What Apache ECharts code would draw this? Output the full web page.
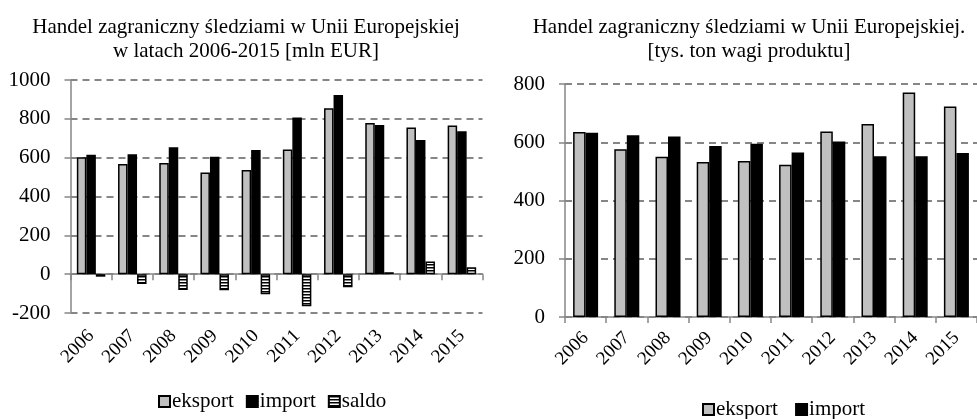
<!DOCTYPE html>
<html>
<head>
<meta charset="utf-8">
<script src="https://cdn.jsdelivr.net/npm/echarts@6/dist/echarts.min.js"></script>
<style>
html,body{margin:0;padding:0;background:#fff;}
#c{width:977px;height:419px;}
</style>
</head>
<body>
<div id="c"></div>
<script>
const years = ['2006','2007','2008','2009','2010','2011','2012','2013','2014','2015'];
const eurEksport = [602, 567, 572, 523, 536, 642, 855, 778, 756, 766];
const eurImport  = [615, 618, 654, 605, 640, 807, 923, 768, 691, 736];
const eurSaldo   = [-13, -51, -82, -83, -104, -165, -68, 10, 65, 35];
const tonEksport = [635, 576, 550, 532, 536, 523, 637, 663, 771, 723];
const tonImport  = [633, 624, 620, 587, 595, 565, 603, 552, 552, 563];
const eurTicks = {min: -200, max: 1000, interval: 200};
const tonTicks = {min: 0, max: 800, interval: 200};

const FONT = "'Liberation Serif','Times New Roman',serif";
const GRAY = '#868686';

// striped pattern for saldo
const pc = document.createElement('canvas');
pc.width = 4; pc.height = 3;
const pctx = pc.getContext('2d');
pctx.fillStyle = '#fff'; pctx.fillRect(0,0,4,3);
pctx.fillStyle = '#000'; pctx.fillRect(0,0,4,1.5);
const stripe = {image: pc, repeat: 'repeat'};

const chart = echarts.init(document.getElementById('c'), null, {renderer: 'canvas'});

function yAxisCfg(grid, t) {
  return {
    type: 'value', gridIndex: grid, min: t.min, max: t.max, interval: t.interval,
    axisLine: {show: true, lineStyle: {color: GRAY, width: 1.5}},
    axisTick: {show: true, length: 6, lineStyle: {color: GRAY, width: 1.5}},
    axisLabel: {color: '#000', fontFamily: FONT, fontSize: 21, margin: 20, formatter: v => String(v)},
    splitLine: {show: true, lineStyle: {color: GRAY, width: 2, type: [7, 5]}}
  };
}
function xAxisMain(grid) {
  return {
    type: 'category', gridIndex: grid, data: years,
    axisLine: {show: true, onZero: true, lineStyle: {color: GRAY, width: 1.5}},
    axisTick: {show: true, length: 6, lineStyle: {color: GRAY, width: 1.5}},
    axisLabel: {show: false}
  };
}
function xAxisLabels(grid, margin) {
  return {
    type: 'category', gridIndex: grid, data: years, position: 'bottom',
    axisLine: {show: false, onZero: false},
    axisTick: {show: false},
    axisLabel: {show: true, rotate: 45, color: '#000', fontFamily: FONT, fontSize: 19, margin: margin, interval: 0},
    splitLine: {show: false}
  };
}
const borderStyle = {borderColor: '#000', borderWidth: 1.5};
const titleStyle = {fontFamily: FONT, fontSize: 21, fontWeight: 'normal', color: '#000', lineHeight: 24};
const legendText = {fontFamily: FONT, fontSize: 21, color: '#000', padding: [0,0,0,-3]};

chart.setOption({
  animation: false,
  title: [
    {text: 'Handel zagraniczny śledziami w Unii Europejskiej\nw latach 2006-2015 [mln EUR]',
     left: 241, top: 10, textAlign: 'center', textStyle: titleStyle},
    {text: 'Handel zagraniczny śledziami w Unii Europejskiej.\n[tys. ton wagi produktu]',
     left: 744, top: 10, textAlign: 'center', textStyle: titleStyle}
  ],
  legend: [
    {data: ['eksport', 'import', 'saldo'], left: 153, top: 386, itemWidth: 11, itemHeight: 11, itemGap: 12,
     textStyle: legendText, icon: 'rect'},
    {data: ['eksport ', 'import '], left: 697, top: 394, itemWidth: 11, itemHeight: 11, itemGap: 12,
     textStyle: legendText, icon: 'rect'}
  ],
  grid: [
    {left: 70.5, top: 80, width: 412, height: 233},
    {left: 565, top: 84, width: 423, height: 233}
  ],
  xAxis: [xAxisMain(0), xAxisLabels(0, 20), xAxisMain(1), xAxisLabels(1, 18)],
  yAxis: [yAxisCfg(0, eurTicks), yAxisCfg(1, tonTicks)],
  series: [
    {name: 'eksport', type: 'bar', xAxisIndex: 0, yAxisIndex: 0, data: eurEksport, barWidth: 9.5, barGap: '0%',
     itemStyle: Object.assign({color: '#c0c0c0'}, borderStyle)},
    {name: 'import', type: 'bar', xAxisIndex: 0, yAxisIndex: 0, data: eurImport, barWidth: 9.5, barGap: '0%',
     itemStyle: Object.assign({color: '#000'}, borderStyle)},
    {name: 'saldo', type: 'bar', xAxisIndex: 0, yAxisIndex: 0, data: eurSaldo, barWidth: 9.5, barGap: '0%',
     itemStyle: Object.assign({color: stripe}, borderStyle)},
    {name: 'eksport ', type: 'bar', xAxisIndex: 2, yAxisIndex: 1, data: tonEksport, barWidth: 12.5, barGap: '0%',
     itemStyle: Object.assign({color: '#c0c0c0'}, borderStyle)},
    {name: 'import ', type: 'bar', xAxisIndex: 2, yAxisIndex: 1, data: tonImport, barWidth: 12.5, barGap: '0%',
     itemStyle: Object.assign({color: '#000'}, borderStyle)}
  ]
});
</script>
</body>
</html>
